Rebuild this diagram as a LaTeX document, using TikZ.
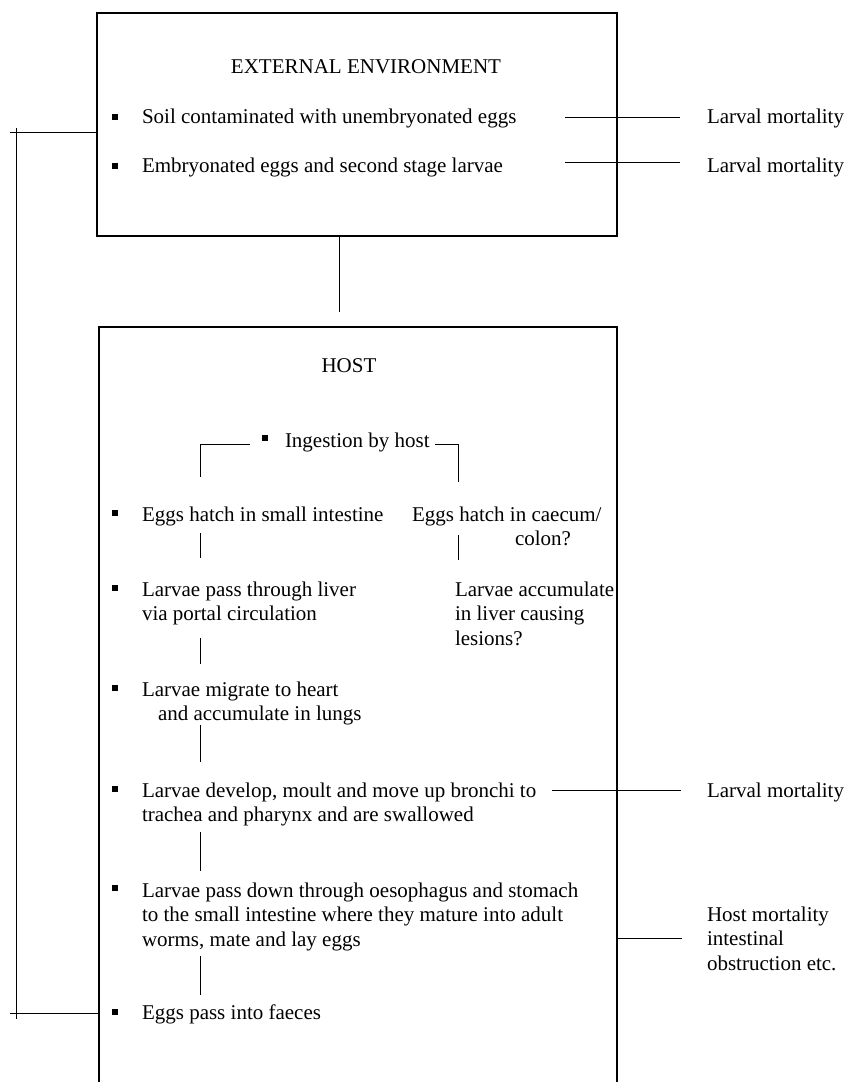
\documentclass[tikz,border=0pt]{standalone}
\usepackage{fontspec}
\setmainfont{Liberation Serif}
\begin{document}
\begin{tikzpicture}[x=1pt,y=-1pt,
  every node/.style={inner sep=0pt, outer sep=0pt, font=\fontsize{21}{24.5}\selectfont},
  txt/.style={anchor=base west, align=left},
  ttl/.style={anchor=base},
  bul/.style={fill=black, minimum size=5.5pt},
  ln/.style={line width=1pt},
  box/.style={draw, line width=1.1pt, minimum width=520pt, minimum height=223pt}]
\useasboundingbox (0,0) rectangle (846,1082);

% external environment box
\node[box] (env) at (357,124.5) {};
\node[ttl] (envT) at (366,73.5) {EXTERNAL ENVIRONMENT};
\node[bul] (b1) at (115,117) {};
\node[txt] (soil) at (142,123) {Soil contaminated with unembryonated eggs};
\node[bul] (b2) at (115,166) {};
\node[txt] (emb) at (142,172) {Embryonated eggs and second stage larvae};
\node[txt] (lm1) at (707,123) {Larval mortality};
\node[txt] (lm2) at (707,172) {Larval mortality};
\coordinate (s1) at (565,117); \coordinate (e1) at (680,117);
\coordinate (s2) at (565,162); \coordinate (e2) at (680,162);
\draw[ln] (s1) -- (e1);
\draw[ln] (s2) -- (e2);

% link between boxes
\coordinate (hostTop) at (339,312);
\draw[ln] (env.south -| hostTop) -- (hostTop);

% host box (open at the bottom of the picture)
\coordinate (hNW) at (99,327); \coordinate (hNE) at (617,327);
\coordinate (hSW) at (99,1082); \coordinate (hSE) at (617,1082);
\draw[line width=1.1pt] (hSW) -- (hNW) -- (hNE) -- (hSE);
\node[ttl] (hostT) at (349,372) {HOST};

% ingestion
\node[bul] (b3) at (265,438) {};
\node[txt] (ing) at (285,447) {Ingestion by host};
\coordinate (iL1) at (250,444); \coordinate (iL2) at (200,444); \coordinate (iL3) at (200,477);
\coordinate (iR1) at (435,444); \coordinate (iR2) at (458,444); \coordinate (iR3) at (458,482);
\draw[ln] (iL1) -- (iL2) -- (iL3);
\draw[ln] (iR1) -- (iR2) -- (iR3);

% left chain (multi-line nodes: base anchor is on the last line)
\node[bul] (b4) at (115,513) {};
\node[txt] (hatch) at (142,521) {Eggs hatch in small intestine};
\node[txt] (caec) at (412,545.5) {Eggs hatch in caecum/\\\hspace*{103pt}colon?};
\draw[ln] (200,533) -- (200,558);
\draw[ln] (458,535) -- (458,560);

\node[bul] (b5) at (115,588) {};
\node[txt] (liver) at (142,620.5) {Larvae pass through liver\\via portal circulation};
\node[txt] (acc) at (455,645) {Larvae accumulate\\in liver causing\\lesions?};
\draw[ln] (200,638) -- (200,664);

\node[bul] (b6) at (115,688) {};
\node[txt] (heart) at (142,720.5) {Larvae migrate to heart\\\hspace*{16pt}and accumulate in lungs};
\draw[ln] (200,725) -- (200,762);

\node[bul] (b7) at (115,789) {};
\node[txt] (dev) at (142,821.5) {Larvae develop, moult and move up bronchi to\\trachea and pharynx and are swallowed};
\node[txt] (lm3) at (707,797) {Larval mortality};
\coordinate (s3) at (552,790); \coordinate (e3) at (681,790);
\draw[ln] (s3) -- (e3);
\draw[ln] (200,832) -- (200,871);

\node[bul] (b8) at (115,888) {};
\node[txt] (down) at (142,946) {Larvae pass down through oesophagus and stomach\\to the small intestine where they mature into adult\\worms, mate and lay eggs};
\node[txt] (hm) at (707,970) {Host mortality\\intestinal\\obstruction etc.};
\coordinate (e4) at (682,938);
\draw[ln] (hNE |- e4) -- (e4);
\draw[ln] (200,956) -- (200,995);

\node[bul] (b9) at (115,1012) {};
\node[txt] (faeces) at (142,1019) {Eggs pass into faeces};

% return loop on the left
\coordinate (rTop) at (10,132); \coordinate (rBot) at (10,1013);
\draw[ln] (env.west |- rTop) -- (rTop);
\draw[ln] (hNW |- rBot) -- (rBot);
\draw[ln] (16,128) -- (16,1019);
\end{tikzpicture}
\end{document}
